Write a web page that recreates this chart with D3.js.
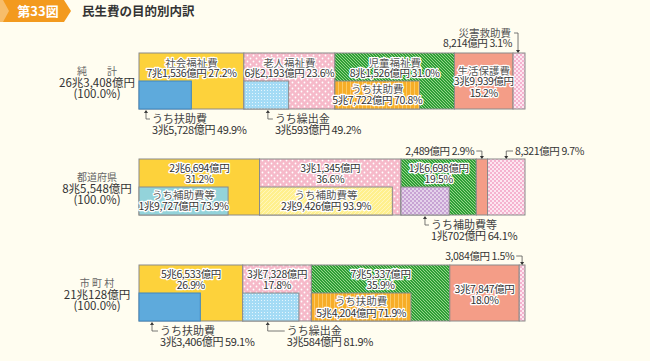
<!DOCTYPE html>
<html>
<head>
<meta charset="utf-8">
<script src="https://cdn.jsdelivr.net/npm/d3@7"></script>
<style>
body{margin:0;background:#fffdf0;}
svg{display:block;font-family:"Noto Sans CJK JP","Noto Sans",sans-serif;}
</style>
</head>
<body>
<script>
// data
var rowNames = ["純　　計", "都道府県", "市 町 村"];
var rowTotals = ["26兆3,408億円", "8兆5,548億円", "21兆128億円"];
var categories = ["社会福祉費", "老人福祉費", "児童福祉費", "生活保護費", "災害救助費"];
var sharePct = [
    [27.2, 23.6, 31.0, 15.2, 3.1],
    [31.2, 36.6, 19.5, 2.9, 9.7],
    [26.9, 17.8, 35.9, 18.0, 1.5]
];
var amounts = [
    ["7兆1,536億円", "6兆2,193億円", "8兆1,526億円", "3兆9,939億円", "8,214億円"],
    ["2兆6,694億円", "3兆1,345億円", "1兆6,698億円", "2,489億円", "8,321億円"],
    ["5兆6,533億円", "3兆7,328億円", "7兆5,337億円", "3兆7,847億円", "3,084億円"]
];
var subNames = [
    ["うち扶助費", "うち繰出金", "うち扶助費"],
    ["うち補助費等", "うち補助費等", "うち補助費等"],
    ["うち扶助費", "うち繰出金", "うち扶助費"]
];
var subPct = [
    [49.9, 49.2, 70.8],
    [73.9, 93.9, 64.1],
    [59.1, 81.9, 71.9]
];
var subAmounts = [
    ["3兆5,728億円", "3兆593億円", "5兆7,722億円"],
    ["1兆9,727億円", "2兆9,426億円", "1兆702億円"],
    ["3兆3,406億円", "3兆584億円", "5兆4,204億円"]
];

var W = 650, H = 361;
var svg = d3.select("body").append("svg").attr("width", W).attr("height", H);
svg.append("rect").attr("width", W).attr("height", H).attr("fill", "#fffdf0");

var defs = svg.append("defs");
function pat(id, w, h, bg, draw){
    var p = defs.append("pattern").attr("id", id).attr("patternUnits", "userSpaceOnUse")
        .attr("width", w).attr("height", h);
    p.append("rect").attr("width", w).attr("height", h).attr("fill", bg);
    draw(p);
}
pat("dots", 6, 6, "#f6b9c9", function(p){
    p.append("circle").attr("cx", 1.5).attr("cy", 1.5).attr("r", 0.9).attr("fill", "#fff");
    p.append("circle").attr("cx", 4.5).attr("cy", 4.5).attr("r", 0.9).attr("fill", "#fff");
});
pat("green", 3, 3, "#2e9f36", function(p){
    p.append("path").attr("d", "M-1,2 L1,4 M0,0 L3,3 M2,-1 L4,1").attr("stroke", "#c6ebb0").attr("stroke-width", 0.7);
});
pat("check", 4, 4, "#f5b3cf", function(p){
    p.append("rect").attr("width", 2).attr("height", 2).attr("fill", "#fde6f0");
    p.append("rect").attr("x", 2).attr("y", 2).attr("width", 2).attr("height", 2).attr("fill", "#fde6f0");
});
pat("lblue", 3, 3, "#a4dbf5", function(p){
    p.append("rect").attr("width", 1).attr("height", 1).attr("fill", "#e4f5fd");
});
pat("orange", 4, 4, "#f7ad27", function(p){
    p.append("rect").attr("x", 2).attr("width", 1).attr("height", 4).attr("fill", "#fbc964");
});
pat("lyellow", 4, 4, "#fff08e", function(p){
    p.append("path").attr("d", "M-1,1 L1,-1 M0,4 L4,0 M3,5 L5,3").attr("stroke", "#fff8c8").attr("stroke-width", 0.8);
});
pat("lav", 4, 4, "#c8a3d4", function(p){
    p.append("rect").attr("width", 2).attr("height", 2).attr("fill", "#e4d2ea");
    p.append("rect").attr("x", 2).attr("y", 2).attr("width", 2).attr("height", 2).attr("fill", "#e4d2ea");
});

var mainFill = ["#fdd23b", "url(#dots)", "url(#green)", "#f49d87", "url(#check)"];
var subFill = [
    ["#5eaadc", "url(#lblue)", "url(#orange)"],
    ["#93d3da", "url(#lyellow)", "url(#lav)"],
    ["#5eaadc", "url(#lblue)", "url(#orange)"]
];

// title
svg.append("path").attr("d", "M0,0 H64 L71,11 L64,22 H0 Z").attr("fill", "#f39a1e");
svg.append("path").attr("d", "M0,0 H3 L9,11 L3,22 H0 Z").attr("fill", "#f7bd6a");
svg.append("text").attr("x", 38).attr("y", 16).attr("text-anchor", "middle")
    .attr("fill", "#fff").attr("font-size", 13).attr("font-weight", "bold").text("第33図");
svg.append("text").attr("x", 82).attr("y", 16).attr("fill", "#333")
    .attr("font-size", 12.5).attr("font-weight", "bold").text("民生費の目的別内訳");

var x0 = 139, x1 = 525, barH = 56;
var y = d3.scaleLinear().domain([0, 2]).range([53, 265]);

function label(g, x, yy, txt, anchor, opt){
    opt = opt || {};
    var t = g.append("text").attr("x", x).attr("y", yy).attr("dy", "0.35em")
        .attr("text-anchor", anchor || "middle")
        .attr("font-size", opt.size || 10.5)
        .attr("letter-spacing", opt.ls == null ? -0.4 : opt.ls)
        .attr("fill", opt.color || "#333").text(txt);
    if (opt.halo) t.attr("stroke", "#fff").attr("stroke-width", 2.5).attr("paint-order", "stroke").attr("stroke-linejoin", "round");
    return t;
}

var arrowDown = function(g, x, yy){
    g.append("path").attr("d", "M" + (x - 2) + "," + (yy - 3) + " L" + (x + 2) + "," + (yy - 3) + " L" + x + "," + yy + " Z").attr("fill", "#333");
};
var arrowUp = function(g, x, yy){
    g.append("path").attr("d", "M" + (x - 2) + "," + (yy + 3) + " L" + (x + 2) + "," + (yy + 3) + " L" + x + "," + yy + " Z").attr("fill", "#333");
};

// which sub labels sit below the bar: [row, col, arrow offset, text offset]
var subBelow = [[0, 0, 7, 13], [0, 1, 24, 31], [1, 2, 24, 30], [2, 0, 13, 21], [2, 1, 25, 44]];

rowNames.forEach(function(rn, r){
    var top = y(r), bot = top + barH;
    var total = d3.sum(sharePct[r]);
    var xs = d3.scaleLinear().domain([0, total]).range([x0, x1]);
    var cum = [0];
    sharePct[r].forEach(function(v, i){ cum.push(cum[i] + v); });
    var g = svg.append("g");

    // row heading
    label(g, 97, top + 18, rn, "middle", {size: 10, color: "#666", ls: 0});
    label(g, 97, top + 30, rowTotals[r], "middle", {size: 11.5, color: "#333", ls: 0});
    label(g, 97, top + 41, "(100.0%)", "middle", {size: 11.5, color: "#333", ls: 0});

    g.selectAll("rect.seg").data(sharePct[r]).enter().append("rect")
        .attr("x", function(d, i){ return xs(cum[i]); })
        .attr("y", top)
        .attr("width", function(d, i){ return xs(cum[i + 1]) - xs(cum[i]); })
        .attr("height", barH)
        .attr("fill", function(d, i){ return mainFill[i]; })
        .attr("stroke", "#8a8a8a").attr("stroke-width", 1);

    g.selectAll("rect.sub").data(subPct[r]).enter().append("rect")
        .attr("x", function(d, i){ return xs(cum[i]); })
        .attr("y", top + 28)
        .attr("width", function(d, i){ return (xs(cum[i + 1]) - xs(cum[i])) * d / 100; })
        .attr("height", barH - 28)
        .attr("fill", function(d, i){ return subFill[r][i]; })
        .attr("stroke", function(d, i){ return (r != 1 && i == 0) ? "#3f86bf" : "#8a8a8a"; })
        .attr("stroke-width", 1);

    // labels for the first three categories
    for (var i = 0; i < 3; i++){
        var cx = (xs(cum[i]) + xs(cum[i + 1])) / 2;
        var pct = sharePct[r][i].toFixed(1) + "%";
        if (r == 0){
            label(g, cx, top + 10, categories[i], "middle", {halo: true, color: "#555", ls: 0});
            label(g, cx, top + 20.5, amounts[r][i] + " " + pct, "middle", {halo: true});
        } else {
            label(g, cx, top + 9.5, amounts[r][i], "middle", {halo: true});
            label(g, cx, top + 20.5, pct, "middle", {halo: true});
        }
    }
    // 生活保護費
    var cx3 = (xs(cum[3]) + xs(cum[4])) / 2;
    if (r == 0){
        label(g, cx3, top + 18, categories[3], "middle", {halo: true, color: "#555", ls: 0});
        label(g, cx3, top + 28.5, amounts[r][3], "middle", {halo: true});
        label(g, cx3, top + 40, sharePct[r][3].toFixed(1) + "%", "middle", {halo: true});
    } else if (r == 2){
        label(g, cx3, top + 24, amounts[r][3], "middle", {halo: true});
        label(g, cx3, top + 35, sharePct[r][3].toFixed(1) + "%", "middle", {halo: true});
    } else {
        // small segment, labelled above
        var lx = xs(cum[3]) - 2;
        label(g, lx, top - 8, amounts[r][3] + " " + sharePct[r][3].toFixed(1) + "%", "end");
        g.append("path").attr("d", "M" + (lx + 2) + "," + (top - 8) + " H" + cx3 + " V" + (top - 1))
            .attr("fill", "none").attr("stroke", "#555").attr("stroke-width", 0.8);
        arrowDown(g, cx3, top);
    }
    // 災害救助費
    var cx4 = (xs(cum[4]) + xs(cum[5])) / 2;
    if (r == 0){
        label(g, xs(cum[4]) - 2, top - 20, categories[4], "end", {color: "#555", ls: 0});
        label(g, xs(cum[4]) - 1, top - 9.5, amounts[r][4] + " " + sharePct[r][4].toFixed(1) + "%", "end");
        g.append("path").attr("d", "M" + (xs(cum[4]) + 1) + "," + (top - 20) + " H" + (cx4 - 1) + " V" + (top - 1))
            .attr("fill", "none").attr("stroke", "#555").attr("stroke-width", 0.8);
        arrowDown(g, cx4 - 1, top);
    } else if (r == 1){
        label(g, x1 - 10, top - 8, amounts[r][4] + " " + sharePct[r][4].toFixed(1) + "%", "start");
        g.append("path").attr("d", "M" + (x1 - 12) + "," + (top - 8) + " H" + cx4 + " V" + (top - 1))
            .attr("fill", "none").attr("stroke", "#555").attr("stroke-width", 0.8);
        arrowDown(g, cx4, top);
    } else {
        label(g, xs(cum[4]) - 5, top - 9, amounts[r][4] + " " + sharePct[r][4].toFixed(1) + "%", "end");
        g.append("path").attr("d", "M" + (xs(cum[4]) - 3) + "," + (top - 9) + " H" + cx4 + " V" + (top - 1))
            .attr("fill", "none").attr("stroke", "#555").attr("stroke-width", 0.8);
        arrowDown(g, cx4, top);
    }

    // sub labels
    for (var j = 0; j < 3; j++){
        var below = subBelow.filter(function(s){ return s[0] == r && s[1] == j; })[0];
        var sx = xs(cum[j]);
        var sw = (xs(cum[j + 1]) - sx) * subPct[r][j] / 100;
        var subLine = subAmounts[r][j] + " " + subPct[r][j].toFixed(1) + "%";
        if (below){
            var ax = sx + below[2], tx = sx + below[3];
            arrowUp(g, ax, bot + 1);
            g.append("path").attr("d", "M" + ax + "," + (bot + 3) + " V" + (bot + 10) + " H" + (tx - 2))
                .attr("fill", "none").attr("stroke", "#555").attr("stroke-width", 0.8);
            label(g, tx, bot + 10, subNames[r][j], "start", {size: 11, color: "#444", ls: 0});
            label(g, tx, bot + 21.5, subLine, "start", {size: 11});
        } else {
            var scx = sx + sw / 2;
            label(g, scx, top + 36, subNames[r][j], "middle", {halo: true, color: "#555", ls: 0});
            label(g, scx, top + (r == 2 ? 48.5 : 47.5), subLine, "middle", {halo: true});
        }
    }
});
</script>
</body>
</html>
